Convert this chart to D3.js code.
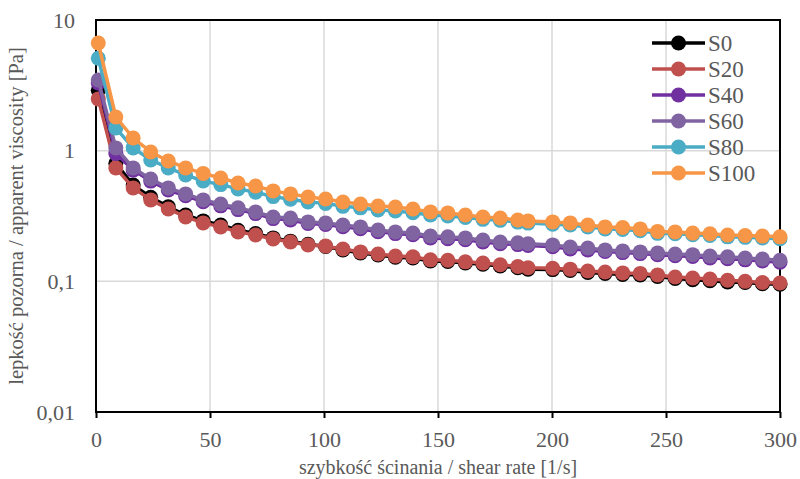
<!DOCTYPE html>
<html>
<head>
<meta charset="utf-8">
<script src="https://cdn.jsdelivr.net/npm/d3@7"></script>
<style>
  body { margin: 0; background: #fff; }
  svg text { font-family: "Liberation Serif", "Times New Roman", "DejaVu Serif", serif !important; }
</style>
</head>
<body>
<div id="chart"></div>
<script>
// Shear rate points [1/s]
const shearRate = [1, 8.7, 16.3, 24, 31.7, 39.3, 47, 54.7, 62.3, 70, 77.7, 85.3, 93, 100.7, 108.3, 116, 123.7, 131.3, 139,
  146.7, 154.3, 162, 169.7, 177.3, 185, 189.5, 200.3, 208, 215.7, 223.3, 231, 238.7, 246.3, 254, 261.7, 269.3, 277, 284.7, 292.3, 300];

// Apparent viscosity [Pa] per sample
const s0 = [2.9, 0.8, 0.545, 0.44, 0.372, 0.322, 0.29, 0.27, 0.246, 0.232, 0.215, 0.203, 0.192, 0.185, 0.174, 0.165, 0.159, 0.153,
  0.151, 0.143, 0.142, 0.138, 0.135, 0.131, 0.127, 0.124, 0.123, 0.121, 0.117, 0.115, 0.113, 0.112, 0.109, 0.105, 0.103, 0.101,
  0.099, 0.098, 0.096, 0.095];
const s20 = [2.49, 0.738, 0.519, 0.42, 0.358, 0.311, 0.28, 0.261, 0.239, 0.226, 0.211, 0.2, 0.19, 0.186, 0.177, 0.168, 0.162, 0.156,
  0.154, 0.146, 0.145, 0.141, 0.138, 0.134, 0.13, 0.127, 0.126, 0.124, 0.12, 0.118, 0.116, 0.115, 0.112, 0.108, 0.106, 0.104,
  0.102, 0.1, 0.098, 0.097];
const s40 = [3.3, 0.95, 0.71, 0.585, 0.5, 0.452, 0.407, 0.378, 0.354, 0.33, 0.302, 0.295, 0.277, 0.272, 0.262, 0.253, 0.24, 0.232,
  0.227, 0.215, 0.212, 0.208, 0.2, 0.194, 0.191, 0.188, 0.184, 0.177, 0.174, 0.169, 0.166, 0.163, 0.16, 0.157, 0.155, 0.151,
  0.149, 0.146, 0.143, 0.14];
const s60 = [3.47, 1.05, 0.738, 0.607, 0.519, 0.467, 0.42, 0.391, 0.365, 0.34, 0.311, 0.305, 0.285, 0.28, 0.27, 0.261, 0.247, 0.239,
  0.234, 0.222, 0.219, 0.215, 0.207, 0.2, 0.197, 0.194, 0.19, 0.183, 0.18, 0.174, 0.171, 0.168, 0.165, 0.162, 0.16, 0.156,
  0.154, 0.151, 0.148, 0.145];
const s80 = [5.1, 1.49, 1.05, 0.849, 0.738, 0.652, 0.586, 0.55, 0.51, 0.48, 0.445, 0.425, 0.405, 0.395, 0.375, 0.365, 0.352, 0.346,
  0.335, 0.322, 0.316, 0.308, 0.298, 0.293, 0.284, 0.279, 0.274, 0.27, 0.261, 0.252, 0.249, 0.244, 0.233, 0.231, 0.227, 0.224,
  0.219, 0.217, 0.215, 0.212];
const s100 = [6.67, 1.81, 1.25, 0.977, 0.834, 0.738, 0.67, 0.618, 0.566, 0.537, 0.492, 0.467, 0.442, 0.427, 0.405, 0.391, 0.377, 0.371,
  0.358, 0.34, 0.334, 0.322, 0.311, 0.305, 0.295, 0.29, 0.285, 0.28, 0.27, 0.261, 0.258, 0.252, 0.241, 0.239, 0.234, 0.231,
  0.226, 0.224, 0.222, 0.219];

const seriesNames = ["S0", "S20", "S40", "S60", "S80", "S100"];
const seriesValues = [s0, s20, s40, s60, s80, s100];
const seriesColors = ["#000000", "#C0504D", "#7030A0", "#8064A2", "#4BACC6", "#F79646"];

const xTicks = [0, 50, 100, 150, 200, 250, 300];
const yTicks = [0.01, 0.1, 1, 10];
const yTickLabels = ["0,01", "0,1", "1", "10"];

const width = 800, height = 479;
const margin = {top: 20, right: 20, bottom: 67, left: 96};
const plotW = width - margin.left - margin.right;
const plotH = height - margin.top - margin.bottom;
const serif = "'Liberation Serif', 'Times New Roman', 'DejaVu Serif', serif";

const svg = d3.select("#chart").append("svg")
  .attr("width", width)
  .attr("height", height);

const chart = svg.append("g")
  .attr("transform", `translate(${margin.left},${margin.top})`);

const x = d3.scaleLinear().domain([0, 300]).range([0, plotW]);
const y = d3.scaleLog().domain([0.01, 10]).range([plotH, 0]);

// Grid lines
chart.append("g")
  .selectAll("line")
  .data(xTicks.slice(1, -1))
  .join("line")
  .attr("x1", d => x(d)).attr("x2", d => x(d))
  .attr("y1", 0).attr("y2", plotH)
  .attr("stroke", "#d9d9d9")
  .attr("stroke-width", 1.5);

chart.append("g")
  .selectAll("line")
  .data(yTicks.slice(1, -1))
  .join("line")
  .attr("x1", 0).attr("x2", plotW)
  .attr("y1", d => y(d)).attr("y2", d => y(d))
  .attr("stroke", "#d9d9d9")
  .attr("stroke-width", 1.5);

// Frame
chart.append("rect")
  .attr("x", 0).attr("y", 0)
  .attr("width", plotW).attr("height", plotH)
  .attr("fill", "none")
  .attr("stroke", "#000")
  .attr("stroke-width", 2);

// X axis
const xAxis = chart.append("g")
  .attr("transform", `translate(0,${plotH})`)
  .call(d3.axisBottom(x).tickValues(xTicks).tickSize(6).tickPadding(13).tickSizeOuter(0));
xAxis.attr("font-family", serif);
xAxis.select(".domain").remove();
xAxis.selectAll(".tick line").attr("stroke", "#000").attr("stroke-width", 2);
xAxis.selectAll(".tick text")
  .attr("fill", "#595959")
  .style("font-size", "22px");

// Y axis
const yAxis = chart.append("g")
  .call(d3.axisLeft(y).tickValues(yTicks).tickSize(0).tickPadding(21)
    .tickFormat((d, i) => yTickLabels[i]));
yAxis.attr("font-family", serif);
yAxis.select(".domain").remove();
yAxis.selectAll(".tick text")
  .attr("fill", "#595959")
  .style("font-size", "22px");

// Axis titles
svg.append("text")
  .attr("x", margin.left + plotW / 2)
  .attr("y", 474)
  .attr("text-anchor", "middle")
  .attr("fill", "#595959")
  .style("font-size", "20px")
  .text("szybkość ścinania / shear rate [1/s]");

svg.append("text")
  .attr("transform", `translate(23,${margin.top + plotH / 2}) rotate(-90)`)
  .attr("text-anchor", "middle")
  .attr("fill", "#595959")
  .style("font-size", "20.5px")
  .text("lepkość pozorna / apparent viscosity [Pa]");

// Series
const line = d3.line()
  .x((d, i) => x(shearRate[i]))
  .y(d => y(d));

seriesValues.forEach((vals, si) => {
  const g = chart.append("g");
  g.append("path")
    .datum(vals)
    .attr("fill", "none")
    .attr("stroke", seriesColors[si])
    .attr("stroke-width", 3.5)
    .attr("stroke-linejoin", "round")
    .attr("d", line);
  g.selectAll("circle")
    .data(vals)
    .join("circle")
    .attr("cx", (d, i) => x(shearRate[i]))
    .attr("cy", d => y(d))
    .attr("r", 7.5)
    .attr("fill", seriesColors[si]);
});

// Legend
const legend = svg.append("g")
  .attr("transform", "translate(652,43)");

seriesNames.forEach((name, i) => {
  const row = legend.append("g").attr("transform", `translate(0,${i * 26})`);
  row.append("line")
    .attr("x1", 0).attr("x2", 53)
    .attr("y1", 0).attr("y2", 0)
    .attr("stroke", seriesColors[i])
    .attr("stroke-width", 3.5);
  row.append("circle")
    .attr("cx", 26.5).attr("cy", 0)
    .attr("r", 7.5)
    .attr("fill", seriesColors[i]);
  row.append("text")
    .attr("x", 56).attr("y", 0)
    .attr("dy", "0.35em")
    .attr("fill", "#595959")
    .style("font-size", "23px")
    .text(name);
});
</script>
</body>
</html>
